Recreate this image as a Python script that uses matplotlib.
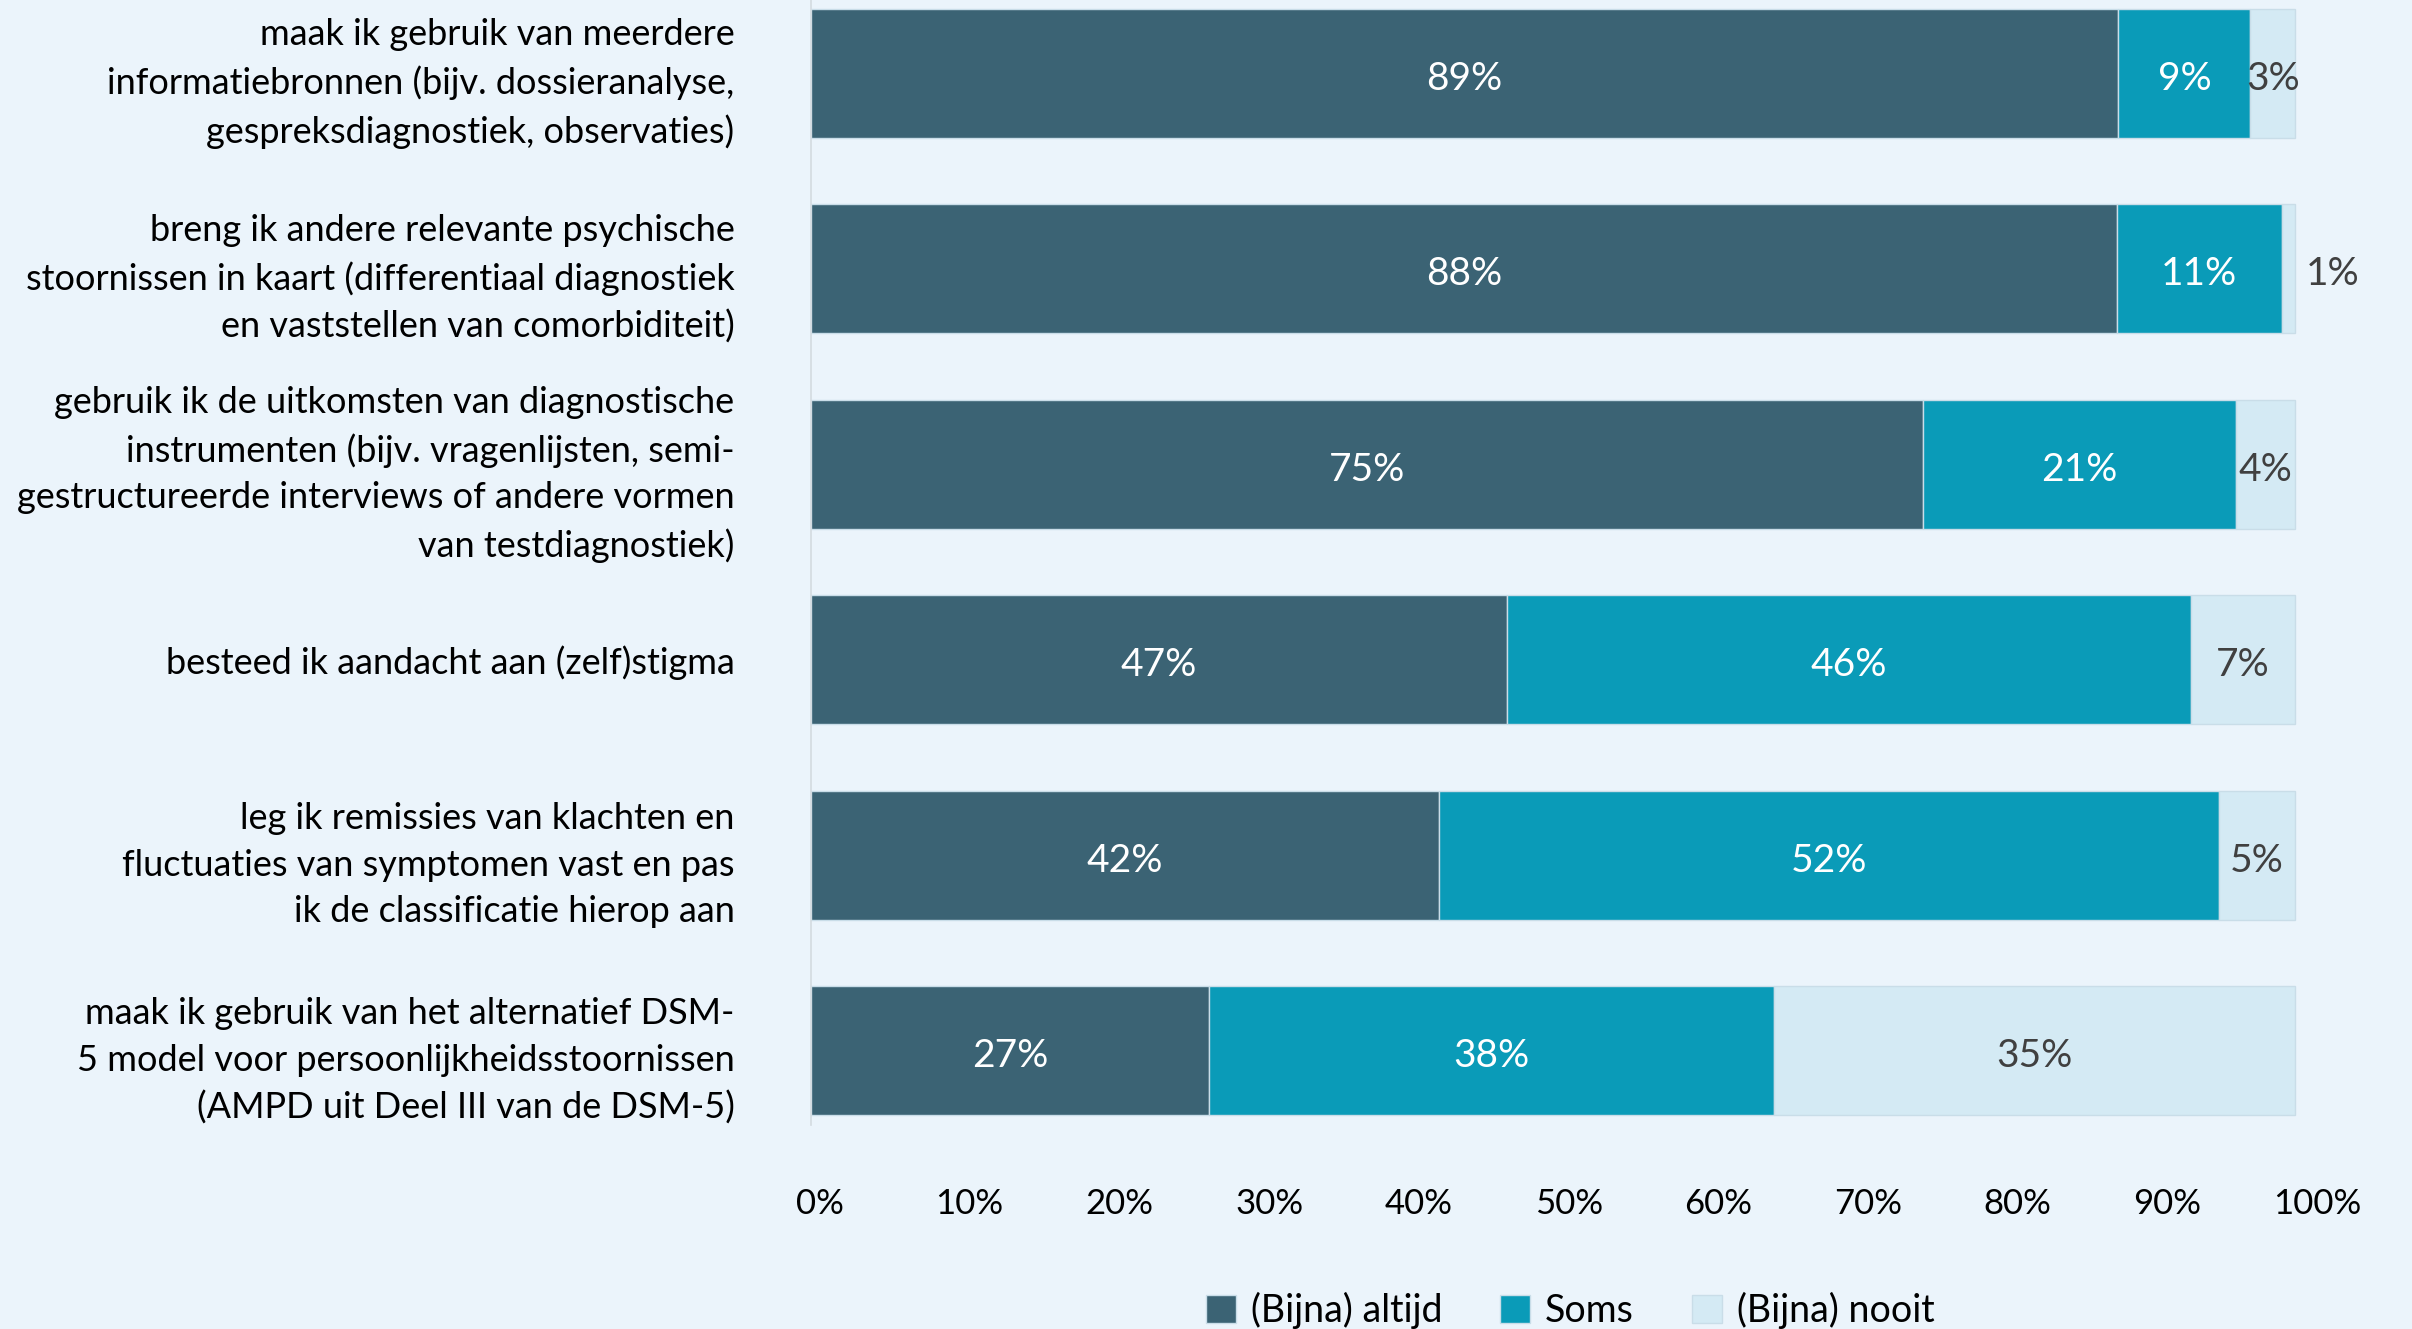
import numpy as np
import matplotlib.pyplot as plt

# chart data (share of respondents, %)
categories = [
    "maak ik gebruik van meerdere\ninformatiebronnen (bijv. dossieranalyse,\ngespreksdiagnostiek, observaties)",
    "breng ik andere relevante psychische\nstoornissen in kaart (differentiaal diagnostiek\nen vaststellen van comorbiditeit)",
    "gebruik ik de uitkomsten van diagnostische\ninstrumenten (bijv. vragenlijsten, semi-\ngestructureerde interviews of andere vormen\nvan testdiagnostiek)",
    "besteed ik aandacht aan (zelf)stigma",
    "leg ik remissies van klachten en\nfluctuaties van symptomen vast en pas\nik de classificatie hierop aan",
    "maak ik gebruik van het alternatief DSM-\n5 model voor persoonlijkheidsstoornissen\n(AMPD uit Deel III van de DSM-5)",
]
series_names = ["(Bijna) altijd", "Soms", "(Bijna) nooit"]
altijd = [88.1, 88.0, 74.9, 46.9, 42.3, 26.8]
soms = [8.9, 11.1, 21.1, 46.1, 52.6, 38.1]
nooit = [3.0, 0.9, 4.0, 7.0, 5.1, 35.1]
labels_altijd = ["89%", "88%", "75%", "47%", "42%", "27%"]
labels_soms = ["9%", "11%", "21%", "46%", "52%", "38%"]
labels_nooit = ["3%", "1%", "4%", "7%", "5%", "35%"]
tick_labels = ["0%", "10%", "20%", "30%", "40%", "50%", "60%", "70%", "80%", "90%", "100%"]

BG = "#ebf4fb"
COLORS = ["#3b6374", "#0a9bb8", "#d4eaf4"]
TEXT_COLORS = ["white", "white", "#404040"]
FONT = ["Lato", "DejaVu Sans"]

plt.rcParams["font.family"] = FONT

W, H = 2412, 1329
fig = plt.figure(figsize=(W / 100, H / 100), dpi=100, facecolor=BG)
x0, x100 = 811, 2295
xmax = 102
ax = fig.add_axes([x0 / W, 1 - 1125 / H, (x100 - x0) * xmax / 100 / W, 1125 / H])
ax.set_facecolor(BG)

y = np.arange(len(categories))
series = [altijd, soms, nooit]
labels = [labels_altijd, labels_soms, labels_nooit]
left = np.zeros(len(categories))
for vals, labs, col, tcol, name in zip(series, labels, COLORS, TEXT_COLORS, series_names):
    vals = np.asarray(vals)
    ax.barh(y, vals, left=left, height=0.66, color=col, edgecolor="#c9dde8",
            linewidth=1, label=name)
    for yi, v, l, lab in zip(y, vals, left, labs):
        if v < 2:
            ax.text(l + v + 0.7, yi + 0.01, lab, ha="left", va="center_baseline",
                    fontsize=28, color=tcol)
        else:
            ax.text(l + v / 2, yi + 0.01, lab, ha="center", va="center_baseline",
                    fontsize=28, color=tcol)
    left += vals

ax.set_xlim(0, xmax)
ax.set_ylim(5.379, -0.376)
ax.set_yticks(y)
ax.set_yticklabels(categories, fontsize=26, linespacing=1.5)
ax.set_xticks(np.linspace(0.6, 101.5, 11))
ax.set_xticklabels(tick_labels, fontsize=25)
ax.tick_params(axis="y", length=0, pad=55)
ax.tick_params(axis="x", length=0, pad=45)
for s in ["top", "right", "bottom"]:
    ax.spines[s].set_visible(False)
ax.spines["left"].set_color("#d3dbe0")
ax.spines["left"].set_linewidth(1.2)

fig.legend(loc="center", bbox_to_anchor=(0.651, 0.014), ncol=3, frameon=False,
           fontsize=27, handlelength=0.8, handleheight=0.8, handletextpad=0.4,
           columnspacing=1.55)

fig.savefig("out.png", dpi=100, facecolor=BG)
